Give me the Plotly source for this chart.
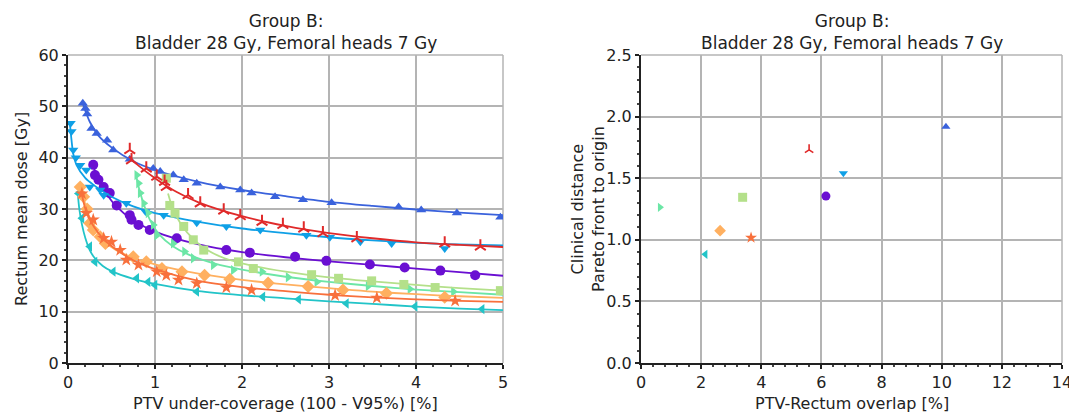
import plotly.graph_objects as go

# ---------------- data ----------------
series_names = ["purple", "blue", "sky", "turq", "aqua", "green", "orange", "star", "red"]

purple_x = [0.29, 0.31, 0.35, 0.41, 0.48, 0.56, 0.71, 0.73, 0.81, 0.94, 1.25, 1.82, 2.09, 2.61, 2.97, 3.47, 3.87, 4.28, 4.68]
purple_y = [38.6, 36.6, 35.7, 34.3, 33.1, 30.7, 28.8, 27.9, 26.9, 25.9, 24.3, 22.0, 21.5, 20.7, 19.9, 19.2, 18.6, 18.0, 17.1]
purple_fx = [0.29, 0.35, 0.45, 0.55, 0.75, 1, 1.5, 2, 2.5, 3, 3.5, 4, 4.5, 5]
purple_fy = [38.5, 35.5, 32.8, 30.6, 27.8, 25.6, 23.1, 21.6, 20.6, 19.8, 19.1, 18.4, 17.7, 17.0]

blue_x = [0.17, 0.2, 0.22, 0.27, 0.33, 0.45, 0.52, 0.71, 0.98, 1.06, 1.21, 1.33, 1.48, 1.75, 1.98, 2.11, 2.38, 2.70, 3.03, 3.80, 4.06, 4.47, 4.97]
blue_y = [50.6, 49.6, 48.5, 45.7, 44.7, 43.4, 41.5, 39.7, 37.9, 37.3, 36.6, 35.7, 35.0, 34.3, 33.7, 33.1, 32.4, 31.8, 31.2, 30.4, 29.8, 29.2, 28.4]
blue_fx = [0.17, 0.25, 0.35, 0.5, 0.75, 1, 1.5, 2, 2.5, 3, 3.5, 4, 4.5, 5]
blue_fy = [50.5, 47.0, 44.3, 42.0, 39.3, 37.6, 35.3, 33.7, 32.5, 31.4, 30.6, 29.9, 29.3, 28.8]

sky_x = [0.03, 0.04, 0.06, 0.09, 0.14, 0.21, 0.25, 0.37, 0.41, 0.67, 0.89, 1.10, 1.48, 1.82, 2.21, 2.74, 3.01, 3.36, 3.72, 4.33]
sky_y = [46.7, 45.1, 41.5, 40.0, 38.5, 37.6, 34.3, 33.7, 32.7, 31.1, 29.5, 28.8, 27.3, 26.6, 25.9, 24.9, 24.5, 23.6, 23.3, 22.3]
sky_fx = [0.02, 0.04, 0.06, 0.1, 0.2, 0.3, 0.5, 0.75, 1, 1.5, 2, 2.5, 3, 3.5, 4, 4.5, 5]
sky_fy = [47.0, 43.5, 40.8, 38.5, 36.0, 34.6, 32.4, 30.5, 29.2, 27.5, 26.2, 25.3, 24.5, 23.9, 23.4, 23.1, 22.9]

turq_x = [0.12, 0.16, 0.25, 0.31, 0.52, 0.79, 0.92, 1.00, 1.48, 2.24, 2.65, 3.20, 3.99, 4.76]
turq_y = [33.0, 28.2, 22.7, 19.7, 17.8, 16.5, 15.8, 15.2, 13.9, 12.9, 12.4, 11.6, 11.0, 10.5]
turq_fx = [0.11, 0.13, 0.16, 0.2, 0.25, 0.3, 0.4, 0.5, 0.75, 1, 1.5, 2, 2.5, 3, 3.5, 4, 4.5, 5]
turq_fy = [33.5, 30.0, 27.0, 24.3, 22.0, 20.6, 18.9, 17.9, 16.4, 15.4, 14.0, 13.2, 12.6, 12.0, 11.5, 11.0, 10.6, 10.3]

aqua_x = [0.79, 0.81, 0.83, 0.87, 0.92, 0.98, 1.02, 1.21, 1.34, 1.44, 1.67, 1.90, 2.23, 2.53, 2.86, 3.45, 3.93, 4.43]
aqua_y = [36.6, 35.0, 33.1, 31.1, 29.2, 26.9, 24.9, 23.3, 21.7, 20.4, 19.1, 18.1, 17.8, 16.7, 15.8, 15.0, 14.4, 13.9]
aqua_fx = [0.78, 0.82, 0.88, 0.95, 1.05, 1.2, 1.4, 1.7, 2, 2.5, 3, 3.5, 4, 4.5, 5]
aqua_fy = [36.8, 33.8, 30.5, 27.6, 25.0, 22.8, 21.0, 19.3, 18.2, 16.8, 15.8, 15.0, 14.3, 13.8, 13.3]

green_x = [1.13, 1.17, 1.23, 1.33, 1.44, 1.56, 1.96, 2.13, 2.8, 3.11, 3.49, 3.86, 4.22, 4.97]
green_y = [36.0, 30.7, 29.2, 26.6, 24.0, 22.0, 19.7, 18.4, 17.2, 16.5, 16.0, 15.3, 14.7, 14.1]
green_fx = [1.15, 1.2, 1.3, 1.45, 1.6, 1.8, 2, 2.5, 3, 3.5, 4, 4.5, 5]
green_fy = [33.0, 30.3, 27.0, 24.0, 22.0, 20.4, 19.4, 17.8, 16.7, 15.9, 15.2, 14.6, 14.1]

orange_x = [0.14, 0.18, 0.22, 0.25, 0.29, 0.37, 0.43, 0.75, 0.90, 1.08, 1.31, 1.57, 1.86, 2.30, 2.76, 3.16, 3.66, 4.33]
orange_y = [34.3, 32.4, 30.0, 27.2, 25.9, 24.6, 23.3, 20.7, 19.7, 18.4, 17.8, 17.1, 16.3, 15.6, 14.9, 14.2, 13.6, 12.8]
orange_fx = [0.14, 0.18, 0.24, 0.3, 0.4, 0.55, 0.75, 1, 1.5, 2, 2.5, 3, 3.5, 4, 4.5, 5]
orange_fy = [34.5, 32.0, 28.7, 26.4, 24.0, 22.0, 20.5, 19.2, 17.4, 16.2, 15.3, 14.6, 13.9, 13.4, 13.0, 12.7]

star_x = [0.16, 0.21, 0.29, 0.41, 0.50, 0.60, 0.67, 0.81, 1.02, 1.13, 1.27, 1.48, 1.82, 2.11, 3.07, 3.55, 4.45]
star_y = [33.0, 29.2, 27.9, 24.3, 23.6, 22.0, 20.1, 19.1, 17.8, 17.1, 16.2, 15.5, 14.7, 14.2, 13.2, 12.7, 12.1]
star_fx = [0.15, 0.2, 0.25, 0.3, 0.4, 0.5, 0.75, 1, 1.5, 2, 2.5, 3, 3.5, 4, 4.5, 5]
star_fy = [33.5, 30.0, 28.0, 26.5, 24.3, 22.8, 20.0, 18.3, 16.0, 14.8, 14.0, 13.3, 12.8, 12.4, 12.1, 11.9]

red_x = [0.71, 0.73, 0.90, 1.02, 1.11, 1.13, 1.38, 1.52, 1.79, 1.98, 2.23, 2.47, 2.71, 2.93, 3.32, 4.33, 4.74]
red_y = [41.5, 39.5, 37.9, 36.3, 35.3, 34.3, 32.7, 31.1, 29.7, 28.6, 27.5, 26.9, 26.2, 25.3, 24.3, 23.3, 22.7]
red_fx = [0.7, 0.8, 1, 1.25, 1.5, 2, 2.5, 3, 3.5, 4, 4.5, 5]
red_fy = [40.2, 38.6, 36.0, 33.3, 31.3, 28.6, 26.7, 25.3, 24.3, 23.5, 23.0, 22.6]

# right panel: one point per series (same order as series_names)
overlap = [6.15, 10.14, 6.73, 2.14, 0.63, 3.38, 2.63, 3.66, 5.59]
clin_dist = [1.355, 1.918, 1.54, 0.882, 1.264, 1.345, 1.074, 1.017, 1.73]

left_xticks = [0, 1, 2, 3, 4, 5]
left_yticks = [0, 10, 20, 30, 40, 50, 60]
right_xticks = [0, 2, 4, 6, 8, 10, 12, 14]
right_yticks = [0.0, 0.5, 1.0, 1.5, 2.0, 2.5]

title_text = "Group B:<br>Bladder 28 Gy, Femoral heads 7 Gy"

# ---------------- styling ----------------
colors = {
    "purple": "#6a0fd2", "blue": "#3a62dc", "sky": "#0fa0e6", "turq": "#22c4c8",
    "aqua": "#6ce6a6", "green": "#b4e08a", "orange": "#ffb060", "star": "#f8703c",
    "red": "#e02a2a",
}
symbols = {
    "purple": "circle", "blue": "triangle-up", "sky": "triangle-down", "turq": "triangle-left",
    "aqua": "triangle-right", "green": "square", "orange": "diamond", "star": "star",
    "red": "y-up",
}
sizes = {"purple": 10, "blue": 9, "sky": 9, "turq": 9, "aqua": 9, "green": 9,
         "orange": 10, "star": 10, "red": 9}
rsizes = {"purple": 9, "blue": 8, "sky": 8, "turq": 8, "aqua": 8, "green": 9,
          "orange": 9, "star": 9, "red": 7}

data = {
    "purple": (purple_x, purple_y, purple_fx, purple_fy),
    "blue": (blue_x, blue_y, blue_fx, blue_fy),
    "sky": (sky_x, sky_y, sky_fx, sky_fy),
    "turq": (turq_x, turq_y, turq_fx, turq_fy),
    "aqua": (aqua_x, aqua_y, aqua_fx, aqua_fy),
    "green": (green_x, green_y, green_fx, green_fy),
    "orange": (orange_x, orange_y, orange_fx, orange_fy),
    "star": (star_x, star_y, star_fx, star_fy),
    "red": (red_x, red_y, red_fx, red_fy),
}

FONT = "DejaVu Sans"
fig = go.Figure()

for name in series_names:
    mx, my, fx, fy = data[name]
    c = colors[name]
    fig.add_trace(go.Scatter(x=fx, y=fy, mode="lines", xaxis="x", yaxis="y",
                             line=dict(color=c, width=1.8, shape="spline", smoothing=0.8),
                             hoverinfo="skip", showlegend=False))
    if symbols[name] == "y-up":
        mk = dict(symbol="y-up", size=sizes[name], color=c, line=dict(color=c, width=2))
    else:
        mk = dict(symbol=symbols[name], size=sizes[name], color=c, line=dict(width=0))
    fig.add_trace(go.Scatter(x=mx, y=my, mode="markers", xaxis="x", yaxis="y",
                             marker=mk, showlegend=False))

for i, name in enumerate(series_names):
    c = colors[name]
    if symbols[name] == "y-up":
        mk = dict(symbol="y-up", size=rsizes[name], color=c, line=dict(color=c, width=1.6))
    else:
        mk = dict(symbol=symbols[name], size=rsizes[name], color=c, line=dict(width=0))
    fig.add_trace(go.Scatter(x=[overlap[i]], y=[clin_dist[i]], mode="markers",
                             xaxis="x2", yaxis="y2", marker=mk, showlegend=False))

# The page body has an 8px default margin: size the figure so that it fills the window.
OFF = 8
W, H = 1077 - OFF, 414 - OFF
L1, R1 = 68 - OFF, 503 - OFF
L2, R2 = 641 - OFF, 1062 - OFF
TOP, BOT = 55 - OFF, 363 - OFF
grid_c = "#b4b4b4"

def xdom(a, b):
    return [a / W, b / W]

ydom = [1 - BOT / H, 1 - TOP / H]

axis_common = dict(
    showgrid=True, gridcolor=grid_c, gridwidth=1.5, zeroline=False,
    showline=True, linecolor="#222222", linewidth=2, mirror=False,
    ticks="outside", ticklen=4, tickwidth=1.5, tickcolor="#222222",
    tickfont=dict(family=FONT, size=16, color="#222222"),
    automargin=False, fixedrange=True,
)

fig.update_layout(
    width=W, height=H,
    margin=dict(l=0, r=0, t=0, b=0),
    paper_bgcolor="white", plot_bgcolor="white",
    font=dict(family=FONT, size=16, color="#222222"),
    xaxis=dict(domain=xdom(L1, R1), range=[0, 5], tickvals=left_xticks, anchor="y",
               minor=dict(ticks="outside", ticklen=2, dtick=0.2, tickcolor="#444444", showgrid=False),
               **axis_common),
    yaxis=dict(domain=ydom, range=[0, 60], tickvals=left_yticks, anchor="x",
               minor=dict(ticks="outside", ticklen=2, dtick=2, tickcolor="#444444", showgrid=False),
               **axis_common),
    xaxis2=dict(domain=xdom(L2, R2), range=[0, 14], tickvals=right_xticks, anchor="y2",
                minor=dict(ticks="outside", ticklen=2, dtick=0.4, tickcolor="#444444", showgrid=False),
                **axis_common),
    yaxis2=dict(domain=ydom, range=[0, 2.5], tickvals=right_yticks, anchor="x2",
                tickformat=".1f",
                minor=dict(ticks="outside", ticklen=2, dtick=0.1, tickcolor="#444444", showgrid=False),
                **axis_common),
)

# gray top/right frame edges
shapes = []
for xr, yr in (("x", "y"), ("x2", "y2")):
    shapes.append(dict(type="line", xref=f"{xr} domain", yref=f"{yr} domain",
                       x0=0, x1=1, y0=1, y1=1, line=dict(color=grid_c, width=1.5), layer="below"))
    shapes.append(dict(type="line", xref=f"{xr} domain", yref=f"{yr} domain",
                       x0=1, x1=1, y0=0, y1=1, line=dict(color=grid_c, width=1.5), layer="below"))
fig.update_layout(shapes=shapes)

title_font = dict(family=FONT, size=17, color="#222222")
ann_font = dict(family=FONT, size=16, color="#222222")

def px(xp):
    return (xp - OFF) / W

def py(yp):
    return 1 - (yp - OFF) / H

mid_y = (55 + 363) / 2
annotations = [
    dict(text=title_text, x=px((68 + 503) / 2), y=py(9), xref="paper", yref="paper",
         xanchor="center", yanchor="top", showarrow=False, font=title_font),
    dict(text=title_text, x=px((641 + 1062) / 2), y=py(9), xref="paper", yref="paper",
         xanchor="center", yanchor="top", showarrow=False, font=title_font),
    dict(text="PTV under-coverage (100 - V95%) [%]", x=px((68 + 503) / 2), y=py(414),
         xref="paper", yref="paper", xanchor="center", yanchor="bottom", showarrow=False,
         font=ann_font, borderpad=0),
    dict(text="PTV-Rectum overlap [%]", x=px((641 + 1062) / 2), y=py(414),
         xref="paper", yref="paper", xanchor="center", yanchor="bottom", showarrow=False,
         font=ann_font, borderpad=0),
    dict(text="Rectum mean dose [Gy]", x=px(21), y=py(mid_y), textangle=-90,
         xref="paper", yref="paper", xanchor="center", yanchor="middle", showarrow=False, font=ann_font),
    dict(text="Clinical distance<br>Pareto front to origin", x=px(588), y=py(mid_y),
         textangle=-90, xref="paper", yref="paper", xanchor="center", yanchor="middle",
         showarrow=False, font=ann_font),
]
fig.update_layout(annotations=annotations)

fig.write_html("out.html")
